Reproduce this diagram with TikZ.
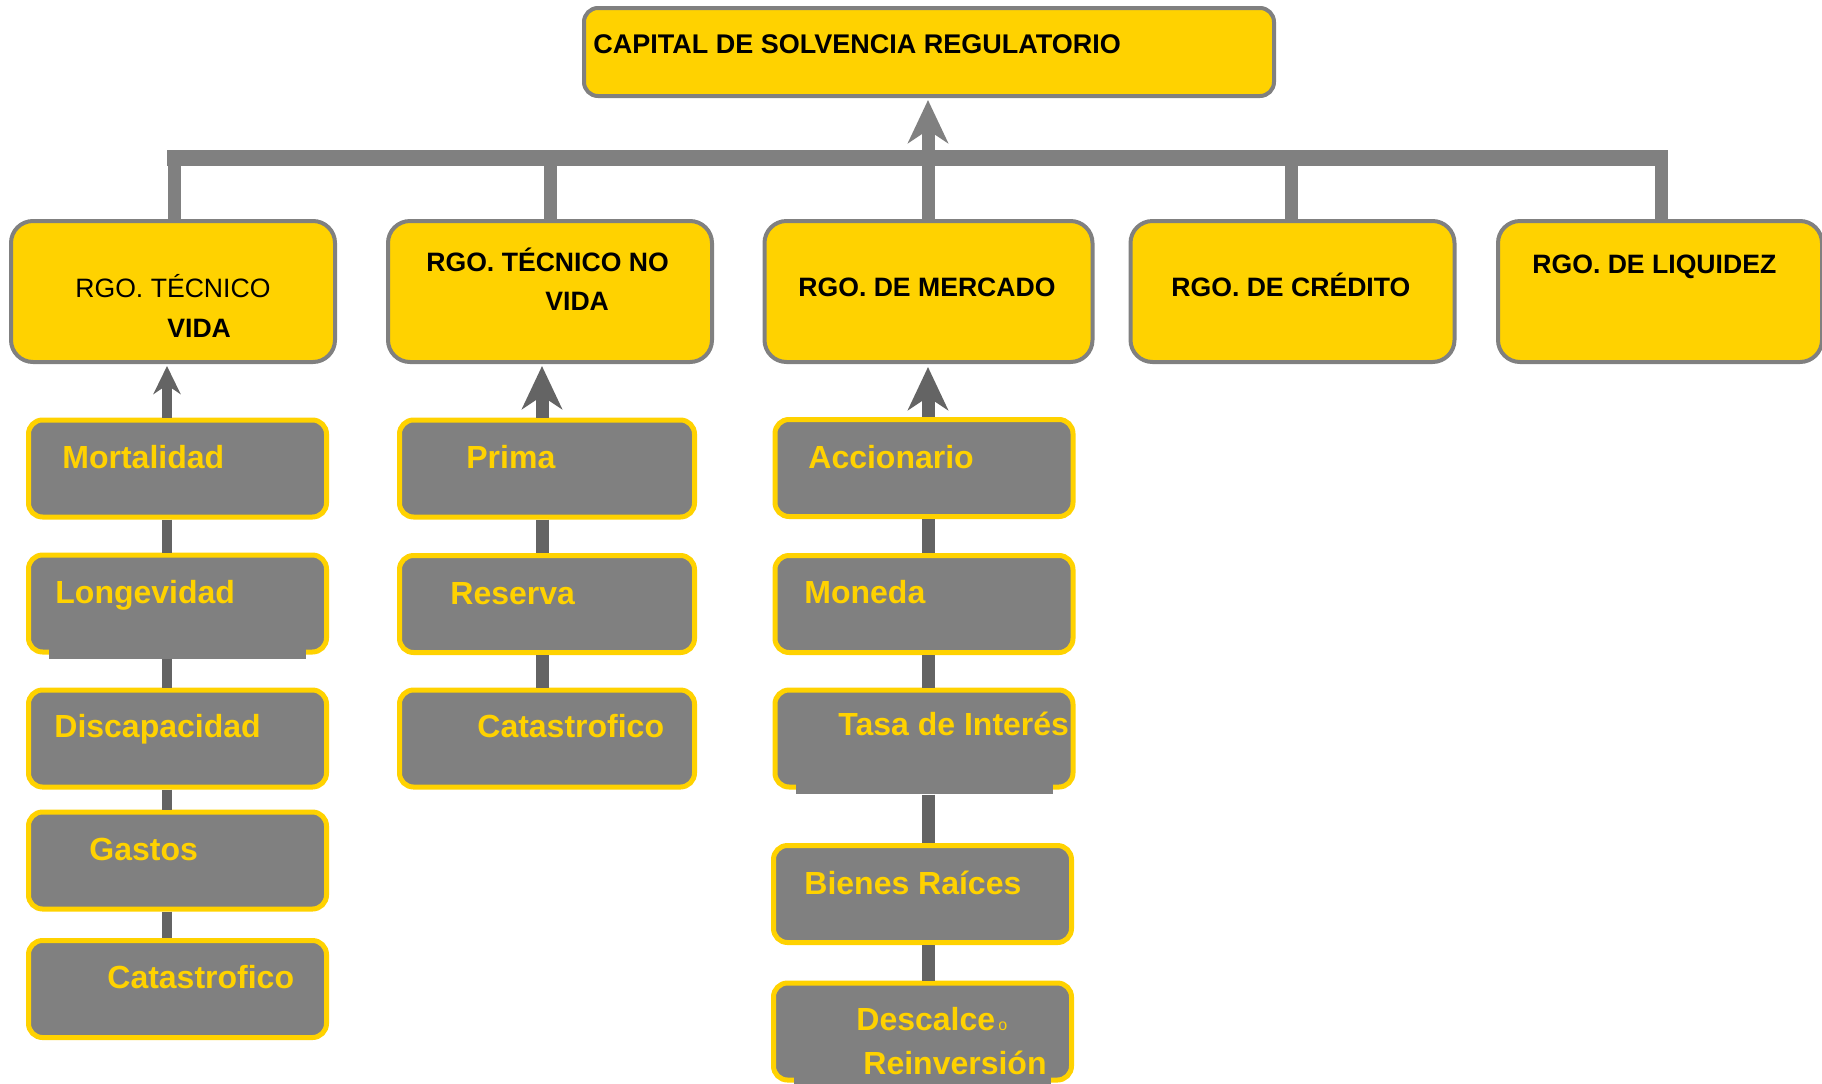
\documentclass[tikz,border=0pt]{standalone}
\usepackage{fontspec}
\setmainfont{Liberation Sans}
\usetikzlibrary{arrows.meta}
\definecolor{ylw}{RGB}{255,210,0}
\definecolor{gbox}{RGB}{128,128,128}
\definecolor{gdark}{RGB}{100,100,100}
\begin{document}
\begin{tikzpicture}[x=0.5pt,y=-0.5pt,
  topbox/.style={draw=gbox, line width=2pt, fill=ylw, rounded corners=7pt, minimum width=345pt, minimum height=44pt, inner sep=0pt},
  rgobox/.style={draw=gbox, line width=2pt, fill=ylw, rounded corners=11pt, minimum width=162pt, minimum height=70.5pt, inner sep=0pt},
  subbox/.style={draw=ylw, line width=2.5pt, fill=gbox, rounded corners=7pt, minimum width=149pt, minimum height=48.5pt, inner sep=0pt},
  lbl/.style={anchor=base west, inner sep=0pt, font=\fontsize{13.3pt}{15pt}\selectfont\bfseries, text=black},
  lblreg/.style={anchor=base west, inner sep=0pt, font=\fontsize{13.3pt}{15pt}\selectfont, text=black},
  sublbl/.style={anchor=base west, inner sep=0pt, font=\fontsize{16pt}{19pt}\selectfont\bfseries, text=ylw},
  busline/.style={draw=gbox, line width=8pt},
  vlink/.style={draw=gbox, line width=6.5pt},
  link/.style={draw=gdark, line width=6.5pt},
  linkthin/.style={draw=gdark, line width=5pt},
  upbig/.style={-{Stealth[length=21.5pt,width=20pt,inset=6.5pt]}},
  upsmall/.style={-{Stealth[length=14pt,width=13.5pt,inset=4.5pt]}},
  strip/.style={fill=gbox}
]
\useasboundingbox (0,0) rectangle (1822,1083);

% coordinates of bus and columns
\coordinate (busL) at (167,158);
\coordinate (busR) at (1668,158);
\coordinate (c1) at (174,158);
\coordinate (c2) at (550,158);
\coordinate (c3) at (928,158);
\coordinate (c4) at (1291,158);
\coordinate (c5) at (1661,158);
\coordinate (k1) at (167,400);
\coordinate (k2) at (542,400);
\coordinate (k3) at (928,400);

% top box
\node[topbox] (top) at (929,52) {};
\node[lbl, font=\fontsize{13.5pt}{15pt}\selectfont\bfseries] (ttop) at (593,53) {CAPITAL DE SOLVENCIA REGULATORIO};

% level 2 boxes
\node[rgobox] (r1) at (173,291.5) {};
\node[rgobox] (r2) at (550,291.5) {};
\node[rgobox, minimum width=164pt] (r3) at (928.5,291.5) {};
\node[rgobox] (r4) at (1292.5,291.5) {};
\node[rgobox] (r5) at (1660,291.5) {};

\node[lblreg] (tr1a) at (75,297) {RGO. TÉCNICO};
\node[lbl] (tr1b) at (167,337) {VIDA};
\node[lbl] (tr2a) at (426,271) {RGO. TÉCNICO NO};
\node[lbl] (tr2b) at (545,310) {VIDA};
\node[lbl] (tr3) at (798,296) {RGO. DE MERCADO};
\node[lbl] (tr4) at (1171,296) {RGO. DE CRÉDITO};
\node[lbl] (tr5) at (1532,273) {RGO. DE LIQUIDEZ};

% bus and verticals
\draw[busline] (busL) -- (busR);
\draw[vlink] (c1) -- (r1.north -| c1);
\draw[vlink] (c2) -- (r2.north -| c2);
\draw[vlink] (c3) -- (r3.north -| c3);
\draw[vlink] (c4) -- (r4.north -| c4);
\draw[vlink] (c5) -- (r5.north -| c5);
\draw[vlink, upbig] (c3) -- ([yshift=-1pt]top.south -| c3);

% column 1 sub boxes
\node[subbox] (m1) at (177.5,468.5) {};
\node[subbox] (m2) at (177.5,603.5) {};
\node[subbox] (m3) at (177.5,738.5) {};
\node[subbox] (m4) at (177.5,860.5) {};
\node[subbox] (m5) at (177.5,989) {};
% column 2 sub boxes
\node[subbox, minimum width=147.5pt] (n1) at (547,468.5) {};
\node[subbox, minimum width=147.5pt] (n2) at (547,604) {};
\node[subbox, minimum width=147.5pt] (n3) at (547,738.5) {};
% column 3 sub boxes
\node[subbox] (p1) at (924,468) {};
\node[subbox] (p2) at (924,604) {};
\node[subbox] (p3) at (924,738.5) {};
\node[subbox] (p4) at (922.5,894) {};
\node[subbox] (p5) at (922.5,1031.5) {};

% strips over bottom borders
\fill[strip] (49,649) rectangle (306,659);
\fill[strip] (796,784) rectangle (1053,794);
\fill[strip] (794,1077) rectangle (1051,1090);

% links column 1
\draw[linkthin, upsmall] (m1.north -| k1) -- ([yshift=-1pt]r1.south -| k1);
\draw[linkthin] (m1.south -| k1) -- (m2.north -| k1);
\draw[linkthin] ([yshift=-2pt]m2.south -| k1) -- (m3.north -| k1);
\draw[linkthin] (m3.south -| k1) -- (m4.north -| k1);
\draw[linkthin] (m4.south -| k1) -- (m5.north -| k1);
% links column 2
\draw[link, upbig] (n1.north -| k2) -- ([yshift=-1pt]r2.south -| k2);
\draw[link] (n1.south -| k2) -- (n2.north -| k2);
\draw[link] (n2.south -| k2) -- (n3.north -| k2);
% links column 3
\draw[link, upbig] (p1.north -| k3) -- ([yshift=-1.5pt]r3.south -| k3);
\draw[link] (p1.south -| k3) -- (p2.north -| k3);
\draw[link] (p2.south -| k3) -- (p3.north -| k3);
\draw[link] ([yshift=-2.5pt]p3.south -| k3) -- (p4.north -| k3);
\draw[link] (p4.south -| k3) -- (p5.north -| k3);

% sub labels
\node[sublbl] (tm1) at (62,468) {Mortalidad};
\node[sublbl] (tm2) at (55,603) {Longevidad};
\node[sublbl] (tm3) at (54,737.5) {Discapacidad};
\node[sublbl] (tm4) at (89,860.5) {Gastos};
\node[sublbl] (tm5) at (107,988) {Catastrofico};
\node[sublbl] (tn1) at (466,468.5) {Prima};
\node[sublbl] (tn2) at (450,604) {Reserva};
\node[sublbl] (tn3) at (477,737.5) {Catastrofico};
\node[sublbl] (tp1) at (808,468) {Accionario};
\node[sublbl] (tp2) at (804,603) {Moneda};
\node[sublbl] (tp3) at (838,735) {Tasa de Interés};
\node[sublbl] (tp4) at (804,894) {Bienes Raíces};
\node[sublbl] (tp5a) at (856,1030) {Descalce};
\node[anchor=base west, inner sep=0pt, font=\fontsize{8pt}{9pt}\selectfont, text=ylw] (tp5o) at (998,1030) {o};
\node[sublbl] (tp5b) at (863,1074) {Reinversión};
\end{tikzpicture}
\end{document}
